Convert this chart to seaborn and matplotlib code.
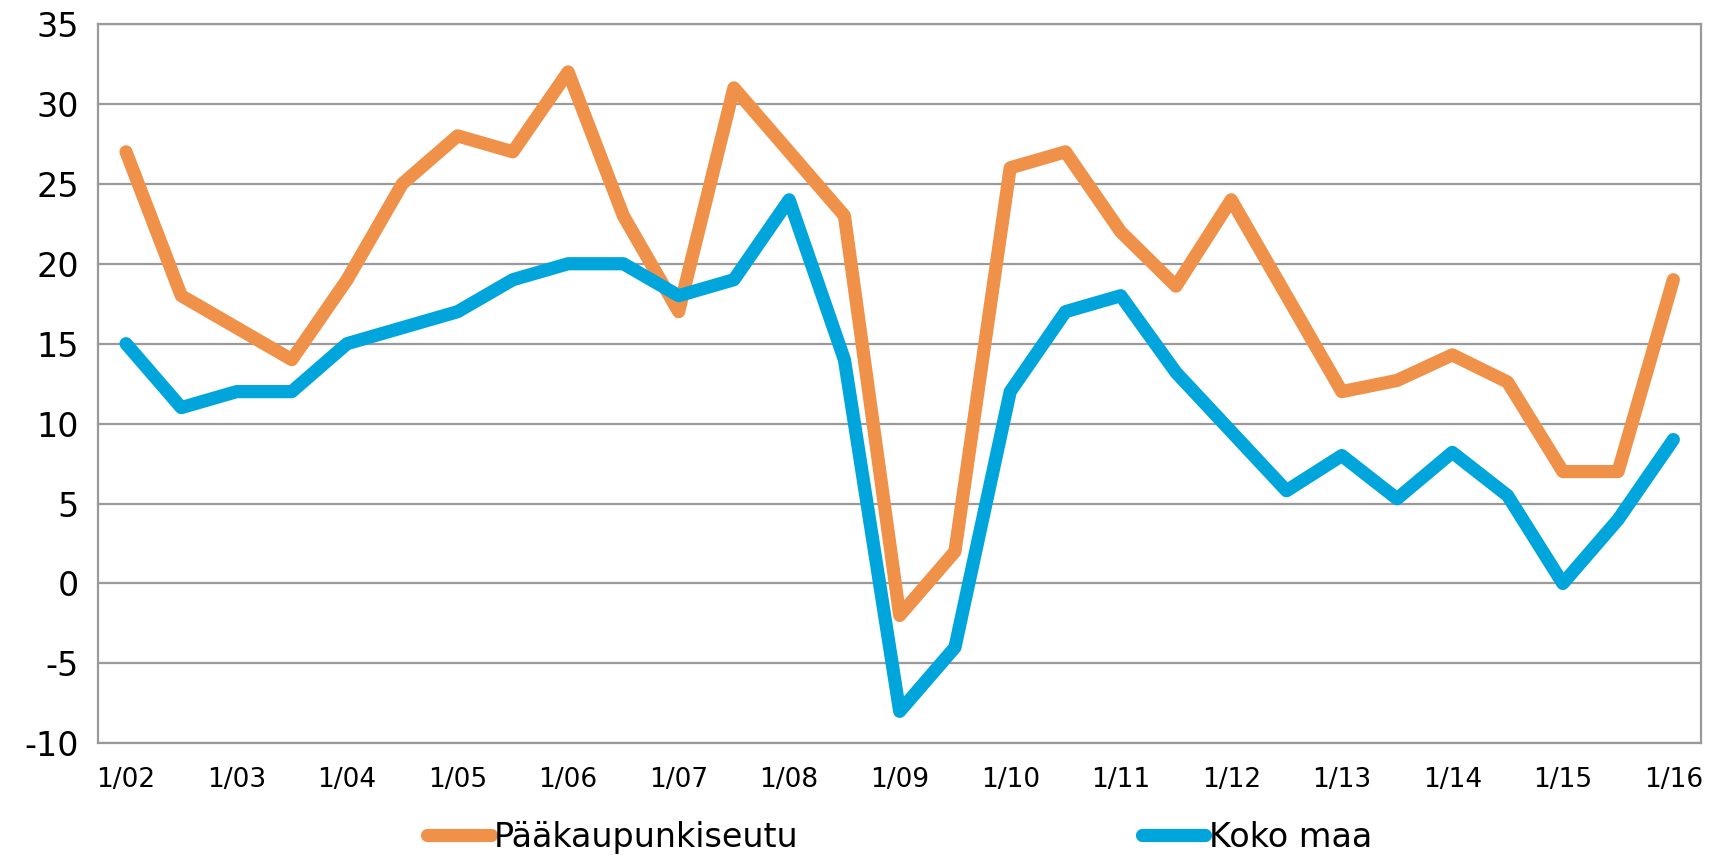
import pandas as pd
import matplotlib.pyplot as plt
import seaborn as sns

# Datos (puntos semestrales 1/02 ... 1/16)
jaksot = ["1/02", "7/02", "1/03", "7/03", "1/04", "7/04", "1/05", "7/05",
          "1/06", "7/06", "1/07", "7/07", "1/08", "7/08", "1/09", "7/09",
          "1/10", "7/10", "1/11", "7/11", "1/12", "7/12", "1/13", "7/13",
          "1/14", "7/14", "1/15", "7/15", "1/16"]
paakaupunkiseutu = [27, 18, 16, 14, 19, 25, 28, 27, 32, 23, 17, 31, 27, 23, -2,
                    2, 26, 27, 22, 18.6, 24, 18, 12, 12.7, 14.3, 12.6, 7, 7, 19]
koko_maa = [15, 11, 12, 12, 15, 16, 17, 19, 20, 20, 18, 19, 24, 14, -8,
            -4, 12, 17, 18, 13.2, 9.5, 5.8, 8, 5.3, 8.2, 5.5, 0, 4, 9]
sarjat = ["Pääkaupunkiseutu", "Koko maa"]
varit = ["#F0914A", "#00A5DB"]
y_ticks = list(range(-10, 40, 5))

df = pd.DataFrame({"i": list(range(len(jaksot))) * 2,
                   "arvo": paakaupunkiseutu + koko_maa,
                   "sarja": [sarjat[0]] * len(jaksot) + [sarjat[1]] * len(jaksot)})

sns.set_style("white")
plt.rcParams["font.family"] = ["DejaVu Sans"]

fig = plt.figure(figsize=(17.14, 8.55), dpi=100)
ax = fig.add_axes([0.0574, 0.1306, 0.935, 0.8414])

ax.grid(axis="y", color="#9a9a9a", linewidth=1.6)
ax.set_axisbelow(True)
sns.lineplot(data=df, x="i", y="arvo", hue="sarja", palette=varit, linewidth=9.5,
             ax=ax, solid_capstyle="round", solid_joinstyle="round")

ax.set_xlim(-0.5, len(jaksot) - 0.5)
ax.set_ylim(-10, 35)
ax.set_yticks(y_ticks)
ax.set_yticklabels([str(t) for t in y_ticks], fontsize=24, color="black")
ax.set_xticks(range(0, len(jaksot), 2))
ax.set_xticklabels(jaksot[::2], fontsize=19, color="black")
ax.tick_params(axis="y", length=0, pad=14)
ax.tick_params(axis="x", length=0, pad=17)
ax.set_xlabel("")
ax.set_ylabel("")
for s in ax.spines.values():
    s.set_color("#9a9a9a")
    s.set_linewidth(1.6)

leg = ax.legend(loc="center", bbox_to_anchor=(0.5, -0.131), ncol=2, frameon=False,
                fontsize=24, handlelength=1.9, handletextpad=0.1, columnspacing=10.3)
for t in leg.get_texts():
    t.set_color("black")

fig.savefig("out.png", dpi=100)
